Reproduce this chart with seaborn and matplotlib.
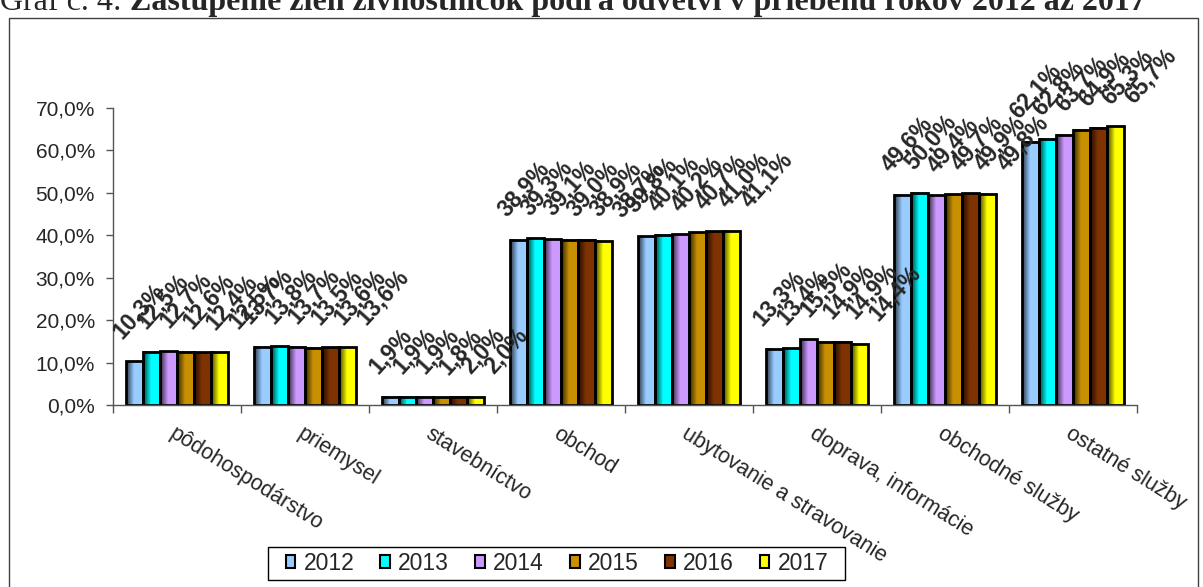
import matplotlib
matplotlib.use("Agg")
import numpy as np
import pandas as pd
import seaborn as sns
import matplotlib.pyplot as plt
from matplotlib.patches import Patch, Rectangle
from matplotlib.ticker import FuncFormatter, FixedLocator
from matplotlib.colors import to_rgb

# Data (share of women, %)
sectors = ["pôdohospodárstvo", "priemysel", "stavebníctvo", "obchod",
           "ubytovanie a stravovanie", "doprava, informácie",
           "obchodné služby", "ostatné služby"]
years = ["2012", "2013", "2014", "2015", "2016", "2017"]
v2012 = [10.3, 13.7, 1.9, 38.9, 39.8, 13.3, 49.6, 62.1]
v2013 = [12.5, 13.8, 1.9, 39.3, 40.1, 13.4, 50.0, 62.8]
v2014 = [12.7, 13.7, 1.9, 39.1, 40.2, 15.5, 49.4, 63.7]
v2015 = [12.6, 13.5, 1.8, 39.0, 40.7, 14.9, 49.7, 64.9]
v2016 = [12.4, 13.6, 2.0, 38.9, 41.0, 14.9, 49.9, 65.3]
v2017 = [12.5, 13.6, 2.0, 38.7, 41.1, 14.4, 49.8, 65.7]
colors = ["#99CCFF", "#00FFFF", "#CC99FF", "#C89000", "#7F3300", "#FFFF00"]

values = [v2012, v2013, v2014, v2015, v2016, v2017]
df = pd.DataFrame({
    "sector": [s for _ in years for s in sectors],
    "year": [y for y in years for _ in sectors],
    "value": [v for vals in values for v in vals],
})

W, H = 1203, 587
PT = 0.72  # points per pixel at 100 dpi

sns.set_style("white")
plt.rcParams["font.family"] = ["Liberation Sans", "DejaVu Sans"]

fig = plt.figure(figsize=(W / 100, H / 100), dpi=100)
ax = fig.add_axes([113 / W, 1 - 405 / H, 1024 / W, 297 / H])

sns.barplot(data=df, x="sector", y="value", hue="year", order=sectors,
            hue_order=years, palette=colors, width=0.8, edgecolor="black",
            linewidth=2, legend=False, ax=ax)

# Excel-like horizontal gradient inside each bar + rotated value labels
for i, (cont, col) in enumerate(zip(ax.containers, colors)):
    base = np.array(to_rgb(col))
    t = np.linspace(0, 1, 64)
    shade = 0.25 + 0.75 * np.clip(t / 0.45, 0, 1)
    grad = np.clip(base[None, :] * shade[:, None], 0, 1)[None, :, :]
    for bar, v in zip(cont, cont.datavalues):
        x, w, h = bar.get_x(), bar.get_width(), bar.get_height()
        ax.imshow(grad, extent=[x, x + w, 0, h], aspect="auto",
                  interpolation="bilinear", zorder=1.5)
        bar.set_facecolor("none")
        bar.set_zorder(2)
        ax.annotate(f"{v:.1f}%".replace(".", ","), (x + w / 2, h),
                    xytext=((-12 + 6 * i) * PT, 22 * PT),
                    textcoords="offset points", rotation=48,
                    rotation_mode="anchor", ha="left", va="baseline",
                    fontsize=16.5, fontweight="bold", annotation_clip=False)

ax.set_xlim(-0.5, 7.5)
ax.set_ylim(0, 70)
ax.set_xlabel("")
ax.set_ylabel("")

ax.yaxis.set_major_locator(FixedLocator(np.arange(0, 71, 10)))
ax.yaxis.set_major_formatter(FuncFormatter(lambda v, p: f"{v:.1f}%".replace(".", ",")))
ax.tick_params(axis="y", left=True, length=5, width=1, color="#555555",
               labelsize=15, pad=8)

ax.set_xticks(range(len(sectors)))
ax.set_xticklabels(sectors, rotation=-32, ha="left", va="top",
                   rotation_mode="anchor", fontsize=15.5)
ax.tick_params(axis="x", which="major", length=0, pad=13)
ax.set_xticks(np.arange(-0.5, 8, 1), minor=True)
ax.tick_params(axis="x", which="minor", bottom=True, length=6, width=1,
               color="#555555")

for side in ["top", "right"]:
    ax.spines[side].set_visible(False)
for side in ["left", "bottom"]:
    ax.spines[side].set_color("#555555")
    ax.spines[side].set_linewidth(1)

# legend (frame drawn separately to get the wide Excel box)
handles = [Patch(facecolor=c, edgecolor="black", linewidth=1.5) for c in colors]
leg = fig.legend(handles, years, loc="center", ncol=6,
                 bbox_to_anchor=(557 / W, 1 - 563 / H), fontsize=16.5,
                 handlelength=0.42, handleheight=0.5, handletextpad=0.35,
                 columnspacing=1.15, borderpad=0.2, frameon=False)
fig.patches.append(Rectangle((268 / W, 1 - 580 / H), 577 / W, 33 / H,
                             transform=fig.transFigure, fill=False,
                             edgecolor="black", linewidth=1))

# outer chart border
fig.patches.append(Rectangle((9 / W, -0.02), 1189 / W, 1.02 - 18 / H,
                             transform=fig.transFigure, fill=False,
                             edgecolor="#404040", linewidth=1))

# title, partly cut off at the top edge as in the source
t1 = fig.text(0.0, 1 - 10 / H, "Graf č. 4: ", fontsize=23,
              family="Liberation Serif", va="baseline", ha="left")
fig.canvas.draw()
bb = t1.get_window_extent()
fig.text(bb.x1 / fig.bbox.width, 1 - 10 / H,
         "Zastúpenie žien živnostníčok podľa odvetví v priebehu rokov 2012 až 2017",
         fontsize=23, fontweight="bold", family="Liberation Serif",
         va="baseline", ha="left")

fig.savefig("out.png", dpi=100)
